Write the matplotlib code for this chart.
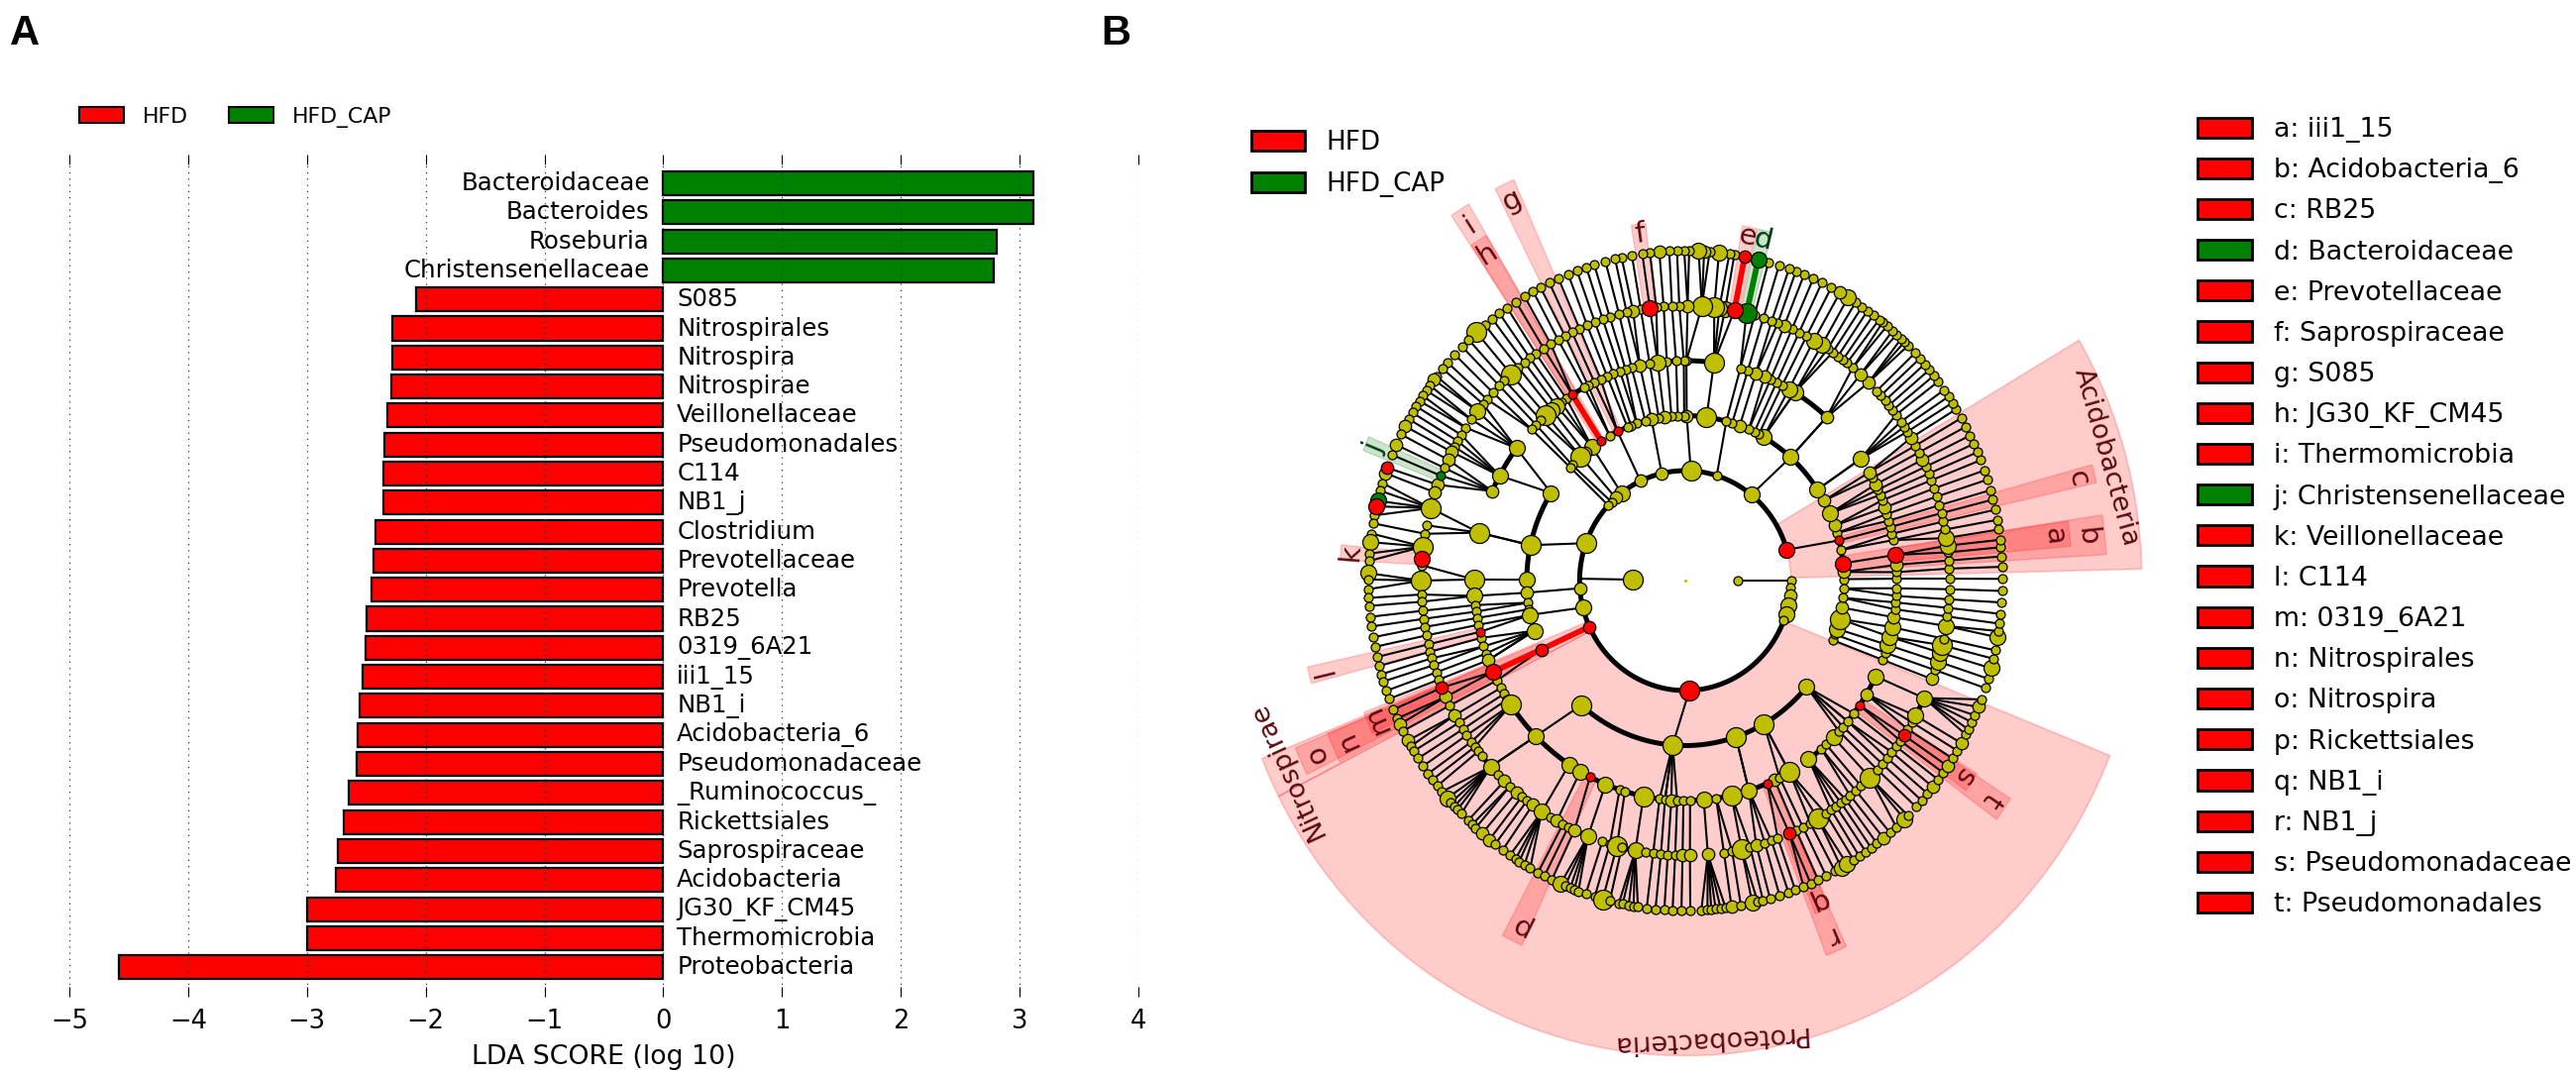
import matplotlib
matplotlib.use("Agg")
import matplotlib.pyplot as plt
import numpy as np
from matplotlib.patches import Patch

# LDA scores (panel A)
taxa = ["Bacteroidaceae", "Bacteroides", "Roseburia", "Christensenellaceae", "S085",
        "Nitrospirales", "Nitrospira", "Nitrospirae", "Veillonellaceae", "Pseudomonadales",
        "C114", "NB1_j", "Clostridium", "Prevotellaceae", "Prevotella", "RB25", "0319_6A21",
        "iii1_15", "NB1_i", "Acidobacteria_6", "Pseudomonadaceae", "_Ruminococcus_",
        "Rickettsiales", "Saprospiraceae", "Acidobacteria", "JG30_KF_CM45", "Thermomicrobia",
        "Proteobacteria"]
lda_scores = [3.12, 3.12, 2.81, 2.78, -2.08, -2.28, -2.28, -2.29, -2.32, -2.35, -2.36, -2.36,
              -2.42, -2.44, -2.46, -2.50, -2.51, -2.53, -2.56, -2.57, -2.58, -2.65, -2.69,
              -2.74, -2.76, -3.00, -3.00, -4.58]

# Cladogram nodes (panel B): angle in degrees per ring, ring 1 is the innermost
ring1_angles = [0, 179]
ring2_angles = [0, 356.3, 352, 346.8, 342.3, 338.8, 16.3, 51.3, 72.7, 87, 102.9, 115.1, 127.2,
                131.2, 134.3, 136.8, 160.1, 184, 194.2, 204.8, 272.2]
ring3_angles = [0.5, 3, 6, 10.7, 14.1, 16.8, 19.5, 24.1, 29, 33.5, 48.4, 60.4, 62.4, 64.2, 66.4,
                69.9, 72.8, 75, 82.3, 89.5, 90.4, 92.7, 95, 97.6, 99.6, 102.3, 104.6, 107.8, 110,
                111.4, 115.3, 118.5, 122.1, 126, 129.3, 131.3, 135.5, 136.6, 147.9, 167.6, 179.7,
                184.2, 187.7, 190, 192, 197.7, 204.7, 229, 265.4, 288.6, 299.7, 319.9, 338.8,
                340.9, 343, 346.6, 350.6, 354, 357.3]
ring4_angles = [0.5, 2.2, 4.1, 6.7, 10.6, 12.3, 14.1, 15.8, 17.6, 19.4, 21.4, 22.9, 24.4, 25.9,
                27.8, 29.5, 33.7, 48, 58.8, 60.6, 62.7, 64.4, 66.2, 68, 70.5, 72.8, 74.9, 82.2,
                89.7, 90.4, 92.5, 95, 97.5, 99.7, 102.4, 104.7, 106.4, 108, 109.9, 111.7, 113.6,
                115.5, 117.4, 118.6, 122.3, 124.2, 125.9, 127.5, 129.1, 131.2, 133.1, 134.9,
                136.6, 143, 151.5, 156, 167.4, 179.7, 184, 186.4, 188.1, 189.8, 191.6, 193.5,
                195.1, 197.4, 199.4, 201.2, 204.5, 207, 209.2, 211, 212.7, 214.4, 225, 236.7,
                240.2, 243.2, 247.8, 251.9, 253.4, 258.6, 263, 264.5, 266.2, 267.8, 269.5, 271.3,
                275, 278.4, 282.6, 287.5, 292.8, 295, 296.5, 299.5, 305.7, 310.1, 311.8, 314.5,
                316.7, 318.3, 320.2, 322.8, 325.5, 328.9, 334.2, 338.9, 340.9, 343, 345.2, 347.8,
                350.4, 352.5, 354.3, 356, 358]
ring5_angles = [0.4, 2.5, 4.2, 5.9, 7.3, 8.9, 10.7, 12.4, 14.2, 15.9, 17.8, 19.6, 21.4, 22.9, 24.5,
                26.1, 27.8, 29.4, 31.3, 32.8, 34, 35.3, 37.1, 38.3, 39.6, 40.9, 42.3, 43.6, 46.1,
                48.5, 50.7, 52.3, 53.4, 54.7, 56.1, 57.4, 58.9, 60.9, 62.7, 64.5, 66.2, 68, 69.5,
                70.9, 72.8, 74.8, 76.6, 79.3, 81.3, 82.6, 83.7, 86.4, 89.5, 91.3, 92.9, 94.7, 96.3,
                97.7, 99.7, 101.4, 102.8, 104.5, 106.6, 108.2, 110, 111.8, 113.6, 115.4, 117.1,
                118.8, 120.6, 122.4, 124.4, 126, 127.5, 129.2, 131.3, 133.2, 134.8, 136.8, 138.7,
                140, 141.9, 144.1, 146.2, 148, 149.5, 150.9, 152.1, 153.9, 155.8, 157.6, 159.6,
                161.3, 164.7, 168.4, 170.2, 172.9, 175.4, 176.8, 180, 182.9, 184.4, 186.3, 188,
                189.7, 191.5, 193.4, 195, 196.4, 197.9, 199.5, 201.1, 202.9, 205, 207, 209.3,
                211.1, 212.7, 214.2, 215.9, 217.2, 218.4, 219.7, 222.6, 224.9, 226.8, 228.4,
                230.3, 231.8, 233.2, 234.7, 237.1, 239.4, 240.9, 242.4, 243.7, 245.2, 248.4,
                251.7, 253.4, 255, 256.1, 259.1, 261.4, 263, 264.7, 266.2, 267.8, 269.4, 271,
                274.9, 278.4, 280.2, 282.3, 284.2, 285.6, 287.5, 289, 290.5, 293.2, 294.8, 296.4,
                298.2, 300.1, 302.1, 303.5, 304.8, 306.1, 307.3, 308.6, 310.2, 311.7, 314.3,
                316.6, 318.2, 319.8, 321.4, 322.9, 324.4, 325.8, 327.3, 329, 330.6, 334.7, 339,
                341, 342.9, 344.8, 346.4, 347.8, 350.5, 352.5, 354.3, 356.1, 358.2]
ring6_angles = [0.3, 2.4, 4.2, 5.8, 7.1, 8.9, 10.6, 12.4, 14.2, 15.9, 17.8, 19.5, 21.4, 22.9, 24.5,
                26.1, 27.8, 29.5, 31.3, 32.6, 33.9, 35.3, 37.1, 38.4, 39.7, 41, 42.3, 43.6, 45.4,
                46.3, 47.1, 48.2, 49.2, 50.5, 51.5, 52.3, 53.6, 54.9, 56.1, 57.5, 59.1, 60.8, 62.6,
                64.5, 66.2, 68, 69.6, 70.9, 72.8, 74.8, 76.7, 79.2, 81.1, 82, 83.9, 85.6, 86.6,
                87.6, 89.3, 90.2, 91.5, 92.9, 94.7, 96.4, 97.8, 99.7, 101.6, 102.8, 104.6, 106.7,
                108.2, 110, 111.7, 113.6, 115.4, 117.2, 118.7, 120.5, 122.3, 124.2, 125.9, 127.5,
                129.2, 131.2, 133.1, 134.8, 136.7, 138.6, 140, 141.7, 142.5, 143.7, 144.8, 145.9,
                147, 148.1, 149.4, 150.7, 152.1, 153.7, 155.7, 157.6, 160, 161, 162.8, 164.2, 166,
                167, 168.6, 170, 171.8, 173.3, 175.3, 176.6, 178.7, 179.8, 181.5, 183, 184.4,
                186.3, 188, 189.9, 191.6, 193.4, 195, 196.5, 197.8, 199.5, 201, 203, 204.7, 205.8,
                207.1, 209, 210.1, 211.1, 212.6, 214.2, 215.8, 217.1, 218.5, 219.8, 221.3, 222.3,
                223.2, 224, 225, 226.7, 227.7, 228.6, 230.1, 231.8, 233.1, 234.8, 236.4, 237.6,
                238.4, 239.5, 240.7, 242.3, 243.6, 245.1, 246.8, 247.7, 248.7, 249.5, 250.3, 251.7,
                253.4, 254.9, 256.2, 257.9, 258.6, 259.7, 260.6, 261.4, 263, 264.6, 266.2, 267.7,
                269.3, 270.9, 272.9, 274, 274.7, 275.5, 276.4, 277.3, 278.4, 280.1, 282.2, 283.2,
                284.2, 285.5, 287.3, 289, 290.3, 291.9, 293.3, 294.8, 296.4, 298.2, 299.5, 300.7,
                302.1, 303.3, 304.7, 305.9, 307.2, 308.7, 310.2, 311.7, 313.7, 314.6, 316.7, 318.2,
                319.8, 321.3, 322.9, 324.4, 325.8, 327.4, 329, 330.5, 332.2, 333.2, 334.6, 335.9,
                337.5, 338.9, 341, 342.7, 344.6, 346.3, 347.8, 350.1, 351.2, 352.5, 354.2, 356.2,
                358.2]

# Bigger nodes: angle -> size class (everything else is class 1)
ring1_big = {179: 4}
ring2_big = {352: 2, 346.8: 3, 342.3: 3, 16.3: 3, 51.3: 3, 87: 4, 102.9: 2, 115.1: 2, 127.2: 3,
             131.2: 2, 160.1: 4, 184: 2, 194.2: 3, 204.8: 2, 272.2: 4}
ring3_big = {29: 2, 24.1: 3, 19.5: 2, 6: 3, 3: 2, 33.5: 3, 48.4: 3, 60.4: 3, 69.9: 2, 82.3: 4,
             89.5: 2, 97.6: 2, 102.3: 2, 126: 3, 129.3: 2, 131.3: 4, 147.9: 3, 167.6: 4, 179.7: 3,
             184.2: 2, 192: 3, 197.7: 3, 204.7: 2, 229: 4, 265.4: 4, 288.6: 4, 299.7: 4, 319.9: 3,
             350.6: 2, 346.6: 4, 343: 3}
ring4_big = {29.5: 2, 25.9: 2, 19.4: 2, 6.7: 3, 4.1: 2, 33.7: 3, 48: 2, 58.8: 3, 60.6: 3, 68: 2,
             70.5: 2, 82.2: 4, 97.5: 3, 102.4: 2, 127.5: 3, 129.1: 3, 131.2: 4, 143: 3, 151.5: 3,
             156: 2, 167.4: 4, 179.7: 4, 184: 3, 201.2: 2, 204.5: 3, 214.4: 4, 225: 3, 236.7: 3,
             240.2: 3, 247.8: 3, 258.6: 4, 266.2: 2, 275: 3, 282.6: 4, 287.5: 3, 295: 2, 299.5: 4,
             305.7: 3, 314.5: 3, 328.9: 2, 334.2: 3, 350.4: 2, 347.8: 3, 345.2: 3, 343: 3}
ring5_big = {8.9: 3, 7.3: 3, 26.1: 2, 31.3: 2, 46.1: 2, 48.5: 2, 58.9: 3, 60.9: 3, 68: 2, 79.3: 3,
             76.6: 4, 81.3: 3, 82.6: 3, 83.7: 4, 86.4: 4, 89.5: 2, 97.7: 3, 101.4: 2, 131.3: 4,
             141.9: 3, 152.1: 2, 153.9: 2, 159.6: 2, 161.3: 2, 164.7: 4, 172.9: 4, 175.4: 3, 180: 4,
             202.9: 2, 205: 2, 209.3: 2, 222.6: 3, 226.8: 2, 230.3: 2, 234.7: 2, 237.1: 3, 240.9: 2,
             245.2: 2, 248.4: 3, 255: 4, 259.1: 3, 269.4: 2, 271: 2, 274.9: 2, 282.3: 4, 285.6: 2,
             300.1: 4, 314.3: 4, 325.8: 2, 330.6: 3, 334.7: 3, 339: 2, 342.9: 3, 344.8: 3, 346.4: 4,
             350.5: 3, 293.2: 2}
ring6_big = {94.7: 2, 131.2: 4, 142.5: 2, 152.1: 2, 155.7: 2, 160: 2, 161: 2, 166: 3, 167: 3, 173.3: 3,
             178.7: 3, 205.8: 2, 209: 2, 221.3: 3, 230.1: 2, 231.8: 2, 246.8: 3, 254.9: 4, 278.4: 2,
             282.2: 3, 299.5: 3, 300.7: 3, 308.7: 2, 313.7: 3, 321.3: 2, 325.8: 2, 330.5: 2, 337.5: 2,
             344.6: 3, 350.1: 3, 59.1: 3, 60.8: 2, 76.7: 3, 79.2: 2, 83.9: 3, 86.6: 2, 87.6: 3}

rings = {1: ring1_angles, 2: ring2_angles, 3: ring3_angles, 4: ring4_angles, 5: ring5_angles, 6: ring6_angles}
ring_big = {1: ring1_big, 2: ring2_big, 3: ring3_big, 4: ring4_big, 5: ring5_big, 6: ring6_big}

# Biomarker nodes per ring
red_nodes = {2: [16.3, 204.8, 272.2], 3: [115.3, 122.1, 204.7, 14.1, 6],
             4: [122.3, 193.5, 204.5, 243.2, 292.8, 325.5, 6.7],
             5: [79.3, 97.7, 175.4, 202.9, 293.2, 325.8], 6: [79.2, 160, 167]}
green_nodes = {5: [76.6, 157.6], 6: [76.7, 166]}

# Links that are not simply nearest-neighbour: parent ring, parent angle, child angle
stems = [(1, 0, 0), (1, 179, 179), (2, 87, 89.5), (2, 102.9, 102.3), (2, 115.1, 115.3), (2, 72.7, 75),
         (2, 51.3, 48.4), (2, 160.1, 167.6), (2, 184, 184.2), (2, 194.2, 192), (2, 272.2, 265.4),
         (2, 16.3, 14.1), (2, 136.8, 136.6), (2, 134.3, 135.5), (2, 131.2, 131.3), (2, 127.2, 126),
         (3, 147.9, 143), (3, 167.6, 167.4), (3, 229, 225), (3, 265.4, 264.5), (3, 288.6, 287.5),
         (3, 299.7, 299.5), (3, 319.9, 320.2), (3, 33.5, 33.7), (3, 48.4, 48), (3, 60.4, 58.8),
         (3, 197.7, 201.2), (4, 225, 222.6), (4, 236.7, 237.1), (4, 240.2, 240.9), (4, 243.2, 245.2),
         (4, 247.8, 248.4), (4, 251.9, 253.4), (4, 253.4, 255), (4, 258.6, 259.1)]
# Ring 5 nodes in this range only hang on the stems above
stem_only_ring5 = (224, 262)
# Fans from ring 5 to ring 6: parent angle, first child, last child
fans = [(164.7, 162.8, 168.6), (172.9, 171.8, 176.6), (180, 178.7, 181.5), (222.6, 219.8, 225),
        (237.1, 238.4, 240.7), (248.4, 246.8, 250.3), (259.1, 257.9, 261.4), (274.9, 272.9, 277.3),
        (314.3, 311.7, 314.6), (334.7, 332.2, 338.9)]
# Thick arcs: ring, from, to
arcs = [(2, 16.3, 338.8), (3, 33.5, 60.4), (3, 75, 118.5), (3, 147.9, 179.7), (3, 184.2, 197.7),
        (3, 229, 319.9), (3, 3, 29), (4, 48, 58.8), (4, 143, 156), (4, 214.4, 299.5), (4, 305.7, 334.2),
        (4, 82.2, 131.2), (5, 219.7, 222.6), (5, 224.9, 234.7), (5, 237.1, 245.2), (5, 245.2, 248.4),
        (5, 256.1, 259.1), (5, 330.6, 334.7)]
# Thick coloured links: parent ring, parent angle, child angle, colour
marked_links = [(2, 204.8, 204.7, "red"), (3, 204.7, 204.5, "red"), (3, 122.1, 122.3, "red"),
                (5, 79.3, 79.2, "red"), (5, 76.6, 76.7, "green")]

# Clade shading: letter, angle, half width, ring of the clade, colour
clades = [("a", 6.7, 1.8, 4, "red"), ("b", 6.0, 2.6, 3, "red"), ("c", 14.1, 1.2, 3, "red"),
          ("d", 76.7, 1.2, 5, "green"), ("e", 79.3, 1.2, 5, "red"), ("f", 97.8, 1.2, 5, "red"),
          ("g", 115.4, 1.4, 3, "red"), ("h", 122.3, 1.3, 4, "red"), ("i", 122.3, 1.4, 3, "red"),
          ("j", 157.6, 1.2, 5, "green"), ("k", 175.5, 1.2, 5, "red"), ("l", 193.6, 1.2, 4, "red"),
          ("m", 203.3, 1.8, 5, "red"), ("n", 204.5, 2.2, 4, "red"), ("o", 204.3, 1.9, 3, "red"),
          ("p", 243.4, 1.6, 4, "red"), ("q", 293.4, 1.3, 5, "red"), ("r", 293, 1.6, 4, "red"),
          ("s", 325.9, 1.6, 5, "red"), ("t", 325.4, 1.8, 4, "red")]
phyla = [("Acidobacteria", 1.4, 30.4), ("Nitrospirae", 202, 207), ("Proteobacteria", 207, 338.4)]

key_letters = list("abcdefghijklmnopqrst")
key_names = ["iii1_15", "Acidobacteria_6", "RB25", "Bacteroidaceae", "Prevotellaceae", "Saprospiraceae",
             "S085", "JG30_KF_CM45", "Thermomicrobia", "Christensenellaceae", "Veillonellaceae", "C114",
             "0319_6A21", "Nitrospirales", "Nitrospira", "Rickettsiales", "NB1_i", "NB1_j",
             "Pseudomonadaceae", "Pseudomonadales"]
key_colors = ["red", "red", "red", "green"] + ["red"] * 5 + ["green"] + ["red"] * 10

RED = "#ff0000"
GREEN = "#008000"
OLIVE = "#bfbf00"
W, H = 2600, 1084


def box(x0, y0, x1, y1):
    # pixel box to figure fractions
    return [x0 / W, 1 - y1 / H, (x1 - x0) / W, (y1 - y0) / H]


fig = plt.figure(figsize=(W / 100, H / 100), dpi=100)

# Panel A
ax = fig.add_axes(box(70, 156, 1149, 1006))
colors = [GREEN if v > 0 else RED for v in lda_scores]
y_pos = np.arange(len(taxa))
ax.barh(y_pos, lda_scores, height=0.82, color=colors, edgecolor="black", linewidth=1.6)
for y, name, v in zip(y_pos, taxa, lda_scores):
    if v > 0:
        ax.text(-0.115, y, name, ha="right", va="center", fontsize=17.6)
    else:
        ax.text(0.115, y, name, ha="left", va="center", fontsize=17.6)
ax.set_xlim(-5, 4)
ax.set_ylim(28.02, -0.99)
ax.set_yticks([])
ax.set_xticks(np.arange(-5, 5))
ax.tick_params(axis="x", direction="in", top=True, length=7, width=0.8, labelsize=18.5, pad=9)
ax.grid(axis="x", linestyle=(0, (1, 4)), color="#333333", linewidth=0.9)
ax.set_axisbelow(False)
ax.set_xlabel("LDA SCORE (log 10)", fontsize=19.3, labelpad=7)
for s in ax.spines.values():
    s.set_visible(False)

fig.legend(handles=[Patch(facecolor=RED, edgecolor="black", linewidth=1.5),
                    Patch(facecolor=GREEN, edgecolor="black", linewidth=1.5)],
           labels=["HFD", "HFD_CAP"], ncol=2, frameon=False, fontsize=15.8, handlelength=2.05,
           handleheight=0.75, columnspacing=1.9, handletextpad=0.85, loc="upper left",
           bbox_to_anchor=(71 / W, 1 - 99 / H), borderaxespad=0, borderpad=0.4)

# Panel B, the cladogram is slightly squeezed in x: 320 px against 333 px per unit radius
RMAX = 1.5
pax = fig.add_axes(box(1701 - 320 * RMAX, 586 - 333 * RMAX, 1701 + 320 * RMAX, 586 + 333 * RMAX),
                   projection="polar")
pax.set_aspect("auto")
pax.set_axis_off()
pax.set_ylim(0, RMAX)


def radius(ring):
    return ring / 6


def link(r0, a0, r1, a1, color="black", lw=1.5, z=2):
    pax.plot(np.radians([a0, a1]), [radius(r0), radius(r1)], color=color, lw=lw, zorder=z,
             solid_capstyle="butt")


# shading
for name, a0, a1 in phyla:
    pax.bar(np.radians((a0 + a1) / 2), 1.44 - 0.333, width=np.radians(a1 - a0), bottom=0.333,
            color=RED, alpha=0.2, edgecolor=RED, linewidth=1.2, zorder=1)
outer_edge = {3: 1.33, 4: 1.22, 5: 1.09}
label_r = {3: 1.275, 4: 1.17, 5: 1.06}
for letter, a, hw, ring, c in clades:
    col = RED if c == "red" else GREEN
    pax.bar(np.radians(a), outer_edge[ring] - radius(ring), width=np.radians(2 * hw), bottom=radius(ring),
            color=col, alpha=0.2, edgecolor=col, linewidth=1, zorder=1)
    txt = "#5a0a10" if c == "red" else "#003a10"
    pax.text(np.radians(a), label_r[ring], letter, rotation=a - 90, rotation_mode="anchor", ha="center",
             va="center", fontsize=21, color=txt, zorder=6)
for name, a, r in [("Acidobacteria", 15.7, 1.38), ("Nitrospirae", 204.7, 1.38), ("Proteobacteria", 273, 1.39)]:
    pax.text(np.radians(a), r, name, rotation=a - 90, rotation_mode="anchor", ha="center", va="center",
             fontsize=19.5, color="#5a0a10", zorder=6)

# explicit links
for r0, a0, a1 in stems:
    link(r0, a0, r0 + 1, a1)

# ring 4 and outwards follow the closest node of the ring below
for ring in [4, 5, 6]:
    parents = np.array(rings[ring - 1])
    for a in rings[ring]:
        if ring == 5 and stem_only_ring5[0] < a < stem_only_ring5[1]:
            continue
        if ring == 6 and any(lo <= a <= hi for _, lo, hi in fans):
            continue
        diffs = np.abs((parents - a + 180) % 360 - 180)
        if diffs.min() < 4:
            link(ring - 1, parents[diffs.argmin()], ring, a)
for p, lo, hi in fans:
    for a in ring6_angles:
        if lo <= a <= hi:
            link(5, p, 6, a)

# arcs
for ring, a0, a1 in arcs:
    th = np.radians(np.linspace(a0, a1, 120))
    pax.plot(th, np.full(th.size, radius(ring)), color="black", lw=3.6, zorder=3, solid_capstyle="butt")
for r0, a0, a1, c in marked_links:
    link(r0, a0, r0 + 1, a1, color=RED if c == "red" else GREEN, lw=4.2, z=3)

# nodes
size_px = {1: 9, 2: 12.5, 3: 16, 4: 20}
for ring, angles in rings.items():
    for a in angles:
        cls = ring_big[ring].get(a, 1)
        col = OLIVE
        if a in red_nodes.get(ring, []):
            col = RED
        if a in green_nodes.get(ring, []):
            col = GREEN
        pax.scatter(np.radians(a), radius(ring), s=(size_px[cls] * 0.72) ** 2, color=col, edgecolor="black",
                    linewidth=0.9, zorder=4 if col == OLIVE else 5)
pax.scatter([0], [0], s=5, color=OLIVE, linewidth=0, zorder=4)

# legend of panel B
fig.legend(handles=[Patch(facecolor=RED, edgecolor="black", linewidth=2),
                    Patch(facecolor=GREEN, edgecolor="black", linewidth=2)],
           labels=["HFD", "HFD_CAP"], frameon=False, fontsize=18.8, handlelength=2.05,
           handleheight=0.8, labelspacing=0.62, handletextpad=0.85, loc="upper left",
           bbox_to_anchor=(1263 / W, 1 - 131 / H), borderaxespad=0, borderpad=0)

# key of letters
fig.legend(handles=[Patch(facecolor=RED if c == "red" else GREEN, edgecolor="black", linewidth=2)
                    for c in key_colors],
           labels=[f"{l}: {n}" for l, n in zip(key_letters, key_names)], frameon=False, fontsize=19.3,
           handlelength=2.05, handleheight=0.78, labelspacing=0.566, handletextpad=0.82, loc="upper left",
           bbox_to_anchor=(2218 / W, 1 - 118 / H), borderaxespad=0, borderpad=0)

fig.text(10 / W, 1 - 34 / H, "A", fontsize=30, fontweight="bold", family="Liberation Sans", va="center")
fig.text(1111 / W, 1 - 34 / H, "B", fontsize=30, fontweight="bold", family="Liberation Sans", va="center")

fig.savefig("out.png", dpi=100)
